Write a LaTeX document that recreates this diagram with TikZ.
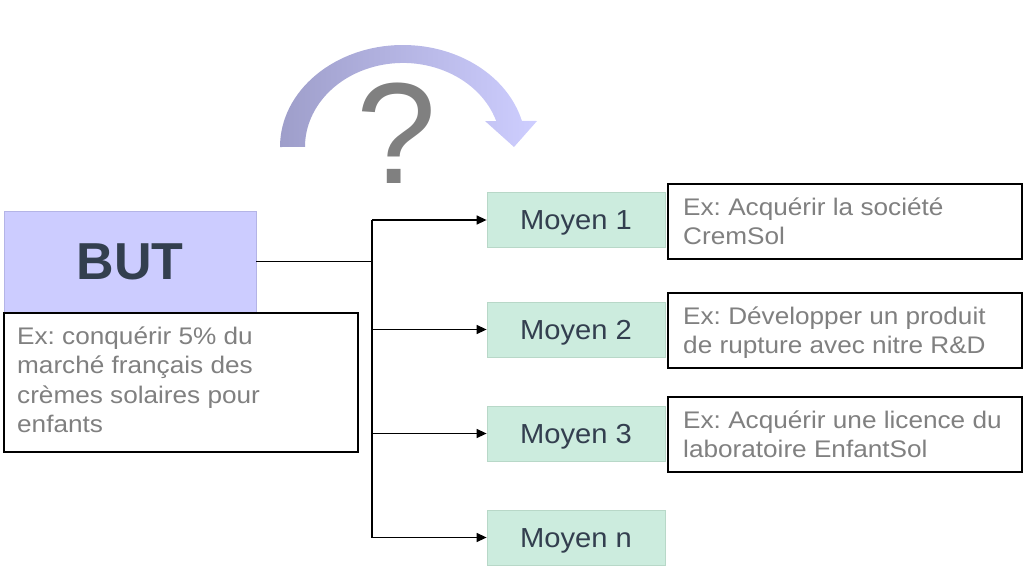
\documentclass[tikz,border=0pt]{standalone}
\usepackage{fontspec}
\setmainfont{Liberation Sans}
\newfontfamily\exfont[FakeStretch=1.09]{Liberation Sans}
\newfontfamily\moyfont[FakeStretch=1.06]{Liberation Sans}
\usetikzlibrary{arrows.meta}
\definecolor{butfill}{RGB}{204,204,255}
\definecolor{butedge}{RGB}{180,180,230}
\definecolor{mfill}{RGB}{204,236,222}
\definecolor{medge}{RGB}{184,216,200}
\definecolor{darktxt}{RGB}{51,63,79}
\definecolor{greytxt}{RGB}{128,128,128}
\definecolor{arcleft}{RGB}{158,158,202}
\definecolor{arcright}{RGB}{206,206,255}
\begin{document}
\frenchspacing
\begin{tikzpicture}[x=1pt,y=-1pt,
  butbox/.style={fill=butfill,draw=butedge,line width=0.8pt,inner sep=0pt,
    minimum width=252pt,minimum height=101pt,text=darktxt,
    font=\fontsize{52}{60}\selectfont\bfseries},
  moybox/.style={fill=mfill,draw=medge,line width=0.8pt,inner sep=0pt,
    minimum width=178pt,minimum height=55pt,text=darktxt,
    text height=19.7pt,text depth=0pt,
    font=\moyfont\fontsize{27.5}{30}\selectfont},
  exbox/.style={draw=black,line width=1.4pt,fill=white,inner sep=0pt,
    minimum width=354pt},
  extext/.style={anchor=north west,inner sep=0pt,align=left,text=greytxt,
    font=\exfont\fontsize{24}{29.5}\selectfont},
  conn/.style={line width=1.4pt,draw=black},
  arr/.style={conn,-{Triangle[length=10pt,width=9pt]}}
]
\useasboundingbox (0,0) rectangle (1024,573);

% curved arrow
\shade[left color=arcleft,right color=arcright]
  (280,147) arc[start angle=180,end angle=345.2,x radius=123,y radius=102]
  -- (537,121) -- (514,147) -- (485,121) -- (496.2,121)
  arc[start angle=342,end angle=180,x radius=98,y radius=84]
  -- cycle;
\node[anchor=base,inner sep=0pt,text=greytxt,font=\fontsize{144}{150}\selectfont] (q) at (397,183) {?};

% BUT
\node[butbox] (but) at (130,261.5) {BUT};
\node[exbox,minimum height=139pt] (exbut) at (181,382.5) {};
\node[extext] (exbuttxt) at (17,323.35) {\strut Ex: conquérir 5\% du\\marché français des\\crèmes solaires pour\\enfants};

% Moyens
\node[moybox] (m1) at (576,220) {Moyen 1};
\node[moybox] (m2) at (576,329.5) {Moyen 2};
\node[moybox] (m3) at (576,433.5) {Moyen 3};
\node[moybox] (mn) at (576,537.5) {Moyen n};

% Examples
\node[exbox,minimum height=75pt] (ex1) at (845,221.5) {};
\node[extext] (ex1txt) at (683,194.35) {\strut Ex: Acquérir la société\\CremSol};
\node[exbox,minimum height=75pt] (ex2) at (845,330.5) {};
\node[extext] (ex2txt) at (683,303.35) {\strut Ex: Développer un produit\\de rupture avec nitre R\&D};
\node[exbox,minimum height=75pt] (ex3) at (845,434.5) {};
\node[extext] (ex3txt) at (683,407.35) {\strut Ex: Acquérir une licence du\\laboratoire EnfantSol};

% connectors
\coordinate (trunk) at (372,0);
\draw[conn] (but.east) -- (but.east -| trunk);
\draw[conn] (trunk |- m1.west) -- (trunk |- mn.west);
\foreach \m in {m1,m2,m3,mn}
  \draw[arr] (trunk |- \m.west) -- (\m.west);
\end{tikzpicture}
\end{document}
